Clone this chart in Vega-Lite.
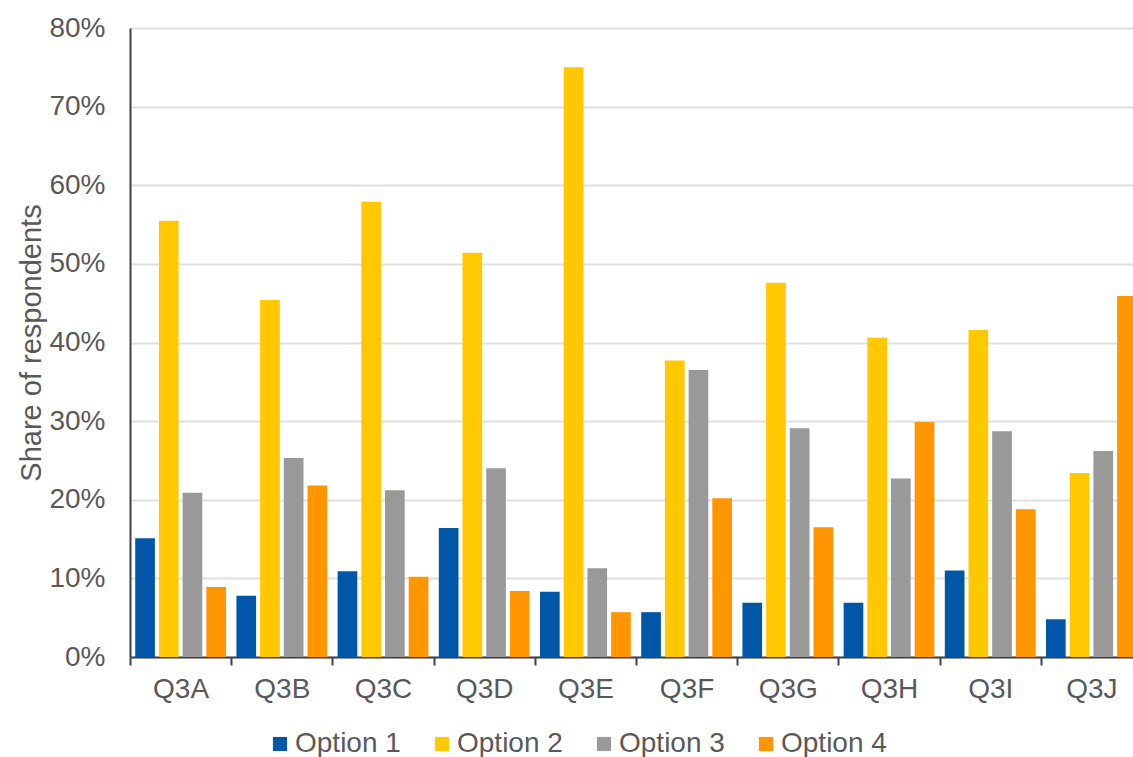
{
  "$schema": "https://vega.github.io/schema/vega-lite/v6.json",
  "autosize": {"type": "none"},
  "width": 1012,
  "height": 629,
  "padding": {"left": 130, "top": 28, "right": 0, "bottom": 100},
  "background": "white",
  "config": {
    "font": "Liberation Sans",
    "view": {"stroke": null}
  },
  "data": {
    "values": [
      {"q": "Q3A", "option": "Option 1", "share": 0.151},
      {"q": "Q3A", "option": "Option 2", "share": 0.555},
      {"q": "Q3A", "option": "Option 3", "share": 0.209},
      {"q": "Q3A", "option": "Option 4", "share": 0.089},
      {"q": "Q3B", "option": "Option 1", "share": 0.078},
      {"q": "Q3B", "option": "Option 2", "share": 0.454},
      {"q": "Q3B", "option": "Option 3", "share": 0.253},
      {"q": "Q3B", "option": "Option 4", "share": 0.218},
      {"q": "Q3C", "option": "Option 1", "share": 0.109},
      {"q": "Q3C", "option": "Option 2", "share": 0.579},
      {"q": "Q3C", "option": "Option 3", "share": 0.212},
      {"q": "Q3C", "option": "Option 4", "share": 0.102},
      {"q": "Q3D", "option": "Option 1", "share": 0.164},
      {"q": "Q3D", "option": "Option 2", "share": 0.514},
      {"q": "Q3D", "option": "Option 3", "share": 0.240},
      {"q": "Q3D", "option": "Option 4", "share": 0.084},
      {"q": "Q3E", "option": "Option 1", "share": 0.083},
      {"q": "Q3E", "option": "Option 2", "share": 0.750},
      {"q": "Q3E", "option": "Option 3", "share": 0.113},
      {"q": "Q3E", "option": "Option 4", "share": 0.057},
      {"q": "Q3F", "option": "Option 1", "share": 0.057},
      {"q": "Q3F", "option": "Option 2", "share": 0.377},
      {"q": "Q3F", "option": "Option 3", "share": 0.365},
      {"q": "Q3F", "option": "Option 4", "share": 0.202},
      {"q": "Q3G", "option": "Option 1", "share": 0.069},
      {"q": "Q3G", "option": "Option 2", "share": 0.476},
      {"q": "Q3G", "option": "Option 3", "share": 0.291},
      {"q": "Q3G", "option": "Option 4", "share": 0.165},
      {"q": "Q3H", "option": "Option 1", "share": 0.069},
      {"q": "Q3H", "option": "Option 2", "share": 0.406},
      {"q": "Q3H", "option": "Option 3", "share": 0.227},
      {"q": "Q3H", "option": "Option 4", "share": 0.299},
      {"q": "Q3I", "option": "Option 1", "share": 0.110},
      {"q": "Q3I", "option": "Option 2", "share": 0.416},
      {"q": "Q3I", "option": "Option 3", "share": 0.287},
      {"q": "Q3I", "option": "Option 4", "share": 0.188},
      {"q": "Q3J", "option": "Option 1", "share": 0.048},
      {"q": "Q3J", "option": "Option 2", "share": 0.234},
      {"q": "Q3J", "option": "Option 3", "share": 0.262},
      {"q": "Q3J", "option": "Option 4", "share": 0.459}
    ]
  },
  "mark": {"type": "bar"},
  "encoding": {
    "x": {
      "field": "q",
      "type": "nominal",
      "scale": {"paddingInner": 0, "paddingOuter": 0},
      "axis": {
        "title": null,
        "labelAngle": 0,
        "labelFontSize": 28,
        "labelColor": "#595959",
        "labelPadding": 10,
        "domainColor": "#404040",
        "domainWidth": 2,
        "tickColor": "#404040",
        "tickWidth": 2,
        "tickSize": 8,
        "tickBand": "extent",
        "grid": false
      }
    },
    "xOffset": {
      "field": "option",
      "type": "nominal",
      "scale": {"paddingInner": 0.17, "paddingOuter": 0.22}
    },
    "y": {
      "field": "share",
      "type": "quantitative",
      "scale": {"domain": [0, 0.8], "nice": false},
      "axis": {
        "title": "Share of respondents",
        "titleFontSize": 29,
        "titleFontWeight": "normal",
        "titleColor": "#595959",
        "titlePadding": 2,
        "values": [0, 0.1, 0.2, 0.3, 0.4, 0.5, 0.6, 0.7, 0.8],
        "format": ".0%",
        "labelFontSize": 28,
        "labelColor": "#595959",
        "labelPadding": 25,
        "ticks": false,
        "domainColor": "#404040",
        "domainWidth": 2,
        "gridColor": "#e0e0e0",
        "gridWidth": 2
      }
    },
    "color": {
      "field": "option",
      "type": "nominal",
      "scale": {
        "domain": ["Option 1", "Option 2", "Option 3", "Option 4"],
        "range": ["#0057a8", "#ffc800", "#999999", "#ff9600"]
      },
      "legend": {
        "title": null,
        "orient": "none",
        "legendX": 136,
        "legendY": 702,
        "direction": "horizontal",
        "columns": 4,
        "symbolType": "square",
        "symbolSize": 200,
        "symbolStrokeWidth": 0,
        "labelFontSize": 28,
        "labelColor": "#595959",
        "labelOffset": 1,
        "columnPadding": 27
      }
    }
  }
}
